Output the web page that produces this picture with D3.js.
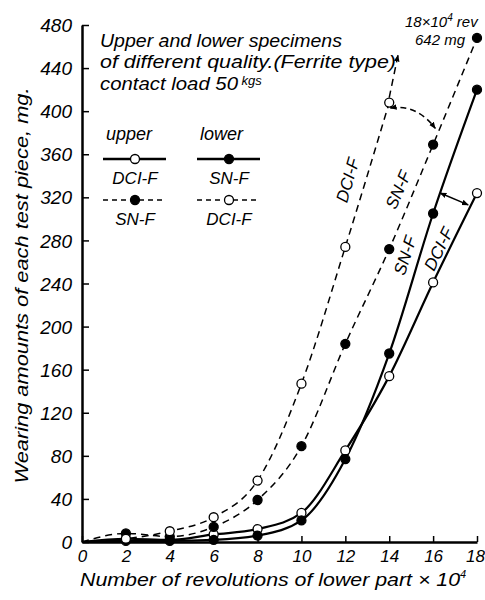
<!DOCTYPE html>
<html lang="en">
<head>
<meta charset="utf-8">
<title>Wearing amounts</title>
<script src="https://cdn.jsdelivr.net/npm/d3@7"></script>
<style>
    body { margin: 0; background: #fff; }
    svg text { font-family: "Liberation Sans", sans-serif; font-style: italic; fill: #000; }
</style>
</head>
<body>
<div id="chart"></div>
<script>
'use strict';

// data (x in 10^4 rev, y in mg)
const revs = [0, 2, 4, 6, 8, 10, 12, 14, 16, 18];
const upperDCI = [0, 3, 2, 7, 12, 27, 85, 154, 241, 324];   // solid, open
const lowerSN = [0, 1, 1, 2, 6, 20, 77, 175, 305, 420];     // solid, filled
const upperSN = [0, 8, 5, 14, 39, 89, 184, 272, 369, 468];  // dashed, filled
const lowerDCI = [0, 3, 10, 23, 57, 147, 274, 408];         // dashed, open
const xTicks = [0, 2, 4, 6, 8, 10, 12, 14, 16, 18];
const yTicks = [0, 40, 80, 120, 160, 200, 240, 280, 320, 360, 400, 440, 480];

const width = 485, height = 600;
const margin = {top: 25, right: 8, bottom: 58, left: 82};

const x = d3.scaleLinear().domain([0, 18]).range([margin.left, 477]);
const y = d3.scaleLinear().domain([0, 480]).range([height - margin.bottom, margin.top]);

const svg = d3.select("#chart").append("svg")
    .attr("width", width)
    .attr("height", height);

svg.append("rect").attr("width", width).attr("height", height).attr("fill", "#fff");

const defs = svg.append("defs");
defs.append("marker")
    .attr("id", "arr")
    .attr("viewBox", "0 0 10 10")
    .attr("refX", 9).attr("refY", 5)
    .attr("markerWidth", 7).attr("markerHeight", 7)
    .attr("markerUnits", "userSpaceOnUse")
    .attr("orient", "auto-start-reverse")
    .append("path").attr("d", "M0,1 L10,5 L0,9 Z").attr("fill", "#000");

// axes
const xAxis = d3.axisBottom(x).tickValues(xTicks).tickSizeInner(-6).tickSizeOuter(0).tickPadding(6);
const yAxis = d3.axisLeft(y).tickValues(yTicks).tickSizeInner(-7).tickSizeOuter(0).tickPadding(10);

const gx = svg.append("g").attr("transform", `translate(0,${y(0)})`).call(xAxis);
const gy = svg.append("g").attr("transform", `translate(${x(0)},0)`).call(yAxis);
[gx, gy].forEach(g => {
    g.select(".domain").attr("stroke", "#000").attr("stroke-width", 2.5);
    g.selectAll(".tick line").attr("stroke", "#000").attr("stroke-width", 1.5);
    g.selectAll(".tick text").style("font-size", "19px").style("font-family", "Liberation Sans, sans-serif")
        .style("font-style", "italic").attr("fill", "#000");
});
gy.selectAll(".tick text").attr("dy", "0.35em");
gx.selectAll(".tick text").attr("dy", "0.85em").style("font-size", "17px");
gx.selectAll(".tick:last-of-type text").attr("dx", -2);

// axis titles
svg.append("text")
    .attr("transform", `translate(28,${y(240) + 2}) rotate(-90)`)
    .attr("text-anchor", "middle")
    .attr("textLength", 396)
    .attr("lengthAdjust", "spacingAndGlyphs")
    .style("font-size", "19px")
    .text("Wearing amounts of each test piece, mg.");

const xt = svg.append("text")
    .attr("x", 80).attr("y", 586)
    .style("font-size", "19px");
xt.append("tspan").attr("textLength", 380).attr("lengthAdjust", "spacingAndGlyphs")
    .text("Number of revolutions of lower part × 10");
xt.append("tspan").attr("dy", -8).style("font-size", "11px").text("4");

// curves
const line = d3.line()
    .x((d, i) => x(revs[i]))
    .y(d => y(d))
    .curve(d3.curveMonotoneX);

const series = [
    {vals: upperDCI, dash: null, fill: "#fff", w: 2.2},
    {vals: lowerSN, dash: null, fill: "#000", w: 2.2},
    {vals: upperSN, dash: "7,5", fill: "#000", w: 1.5},
    {vals: lowerDCI, dash: "7,5", fill: "#fff", w: 1.5}
];

series.forEach(s => {
    svg.append("path")
        .attr("d", line(s.vals))
        .attr("fill", "none")
        .attr("stroke", "#000")
        .attr("stroke-width", s.w)
        .attr("stroke-dasharray", s.dash);
});
series.forEach(s => {
    svg.selectAll(null)
        .data(s.vals.slice(1))
        .enter().append("circle")
        .attr("cx", (d, i) => x(revs[i + 1]))
        .attr("cy", d => y(d))
        .attr("r", 4.5)
        .attr("fill", s.fill)
        .attr("stroke", "#000")
        .attr("stroke-width", 1.3);
});

// dashed DCI-F extension toward the 642 mg note
const extension = [[14, 408], [14.4, 452]];
svg.append("line")
    .attr("x1", x(extension[0][0])).attr("y1", y(extension[0][1]) - 5)
    .attr("x2", x(extension[1][0])).attr("y2", y(extension[1][1]))
    .attr("stroke", "#000").attr("stroke-width", 1.5)
    .attr("stroke-dasharray", "7,5")
    .attr("marker-end", "url(#arr)");

// brackets between curves
const dashBracket = [[14.05, 403], [16.1, 384]];
svg.append("path")
    .attr("d", `M${x(dashBracket[0][0])},${y(dashBracket[0][1])} Q${(x(dashBracket[0][0]) + x(dashBracket[1][0])) / 2 + 4},${y(dashBracket[0][1]) - 4} ${x(dashBracket[1][0])},${y(dashBracket[1][1])}`)
    .attr("fill", "none").attr("stroke", "#000").attr("stroke-width", 1.5)
    .attr("stroke-dasharray", "6,4")
    .attr("marker-start", "url(#arr)").attr("marker-end", "url(#arr)");

const solidBracket = [[16.32, 324], [17.6, 313]];
svg.append("line")
    .attr("x1", x(solidBracket[0][0])).attr("y1", y(solidBracket[0][1]))
    .attr("x2", x(solidBracket[1][0])).attr("y2", y(solidBracket[1][1]))
    .attr("stroke", "#000").attr("stroke-width", 1.5)
    .attr("marker-start", "url(#arr)").attr("marker-end", "url(#arr)");

// labels along curves
const curveLabels = [
    {t: "DCI-F", at: [12.1, 336], rot: -74},
    {t: "SN-F", at: [14.4, 327], rot: -67},
    {t: "SN-F", at: [14.72, 266], rot: -72},
    {t: "DCI-F", at: [16.25, 272], rot: -64}
];
curveLabels.forEach(l => {
    svg.append("text")
        .attr("transform", `translate(${x(l.at[0])},${y(l.at[1])}) rotate(${l.rot})`)
        .attr("text-anchor", "middle")
        .attr("dy", "0.35em")
        .style("font-size", "17px")
        .text(l.t);
});

// note at top right
const note = svg.append("text").attr("x", 405).attr("y", 27).style("font-size", "15px");
note.append("tspan").text("18×10");
note.append("tspan").attr("dy", -6).style("font-size", "10px").text("4");
note.append("tspan").attr("dy", 6).text(" rev");
svg.append("text").attr("x", 415).attr("y", 45).style("font-size", "15px").text("642 mg");

// condition text
const condLines = [
    {t: "Upper and lower specimens", len: 242},
    {t: "of different quality.(Ferrite type)", len: 296}
];
condLines.forEach((l, i) => {
    svg.append("text").attr("x", 100).attr("y", 47 + i * 21)
        .attr("textLength", l.len).attr("lengthAdjust", "spacingAndGlyphs")
        .style("font-size", "18px").text(l.t);
});
const load = svg.append("text").attr("x", 100).attr("y", 90).style("font-size", "18px");
load.append("tspan").attr("textLength", 138).attr("lengthAdjust", "spacingAndGlyphs").text("contact load  50");
load.append("tspan").attr("dy", -5).style("font-size", "13px").text(" kgs");

// legend
const legendCols = ["upper", "lower"];
const legendRows = [
    [{name: "DCI-F", dash: null, fill: "#fff", w: 2.5}, {name: "SN-F", dash: null, fill: "#000", w: 2.5}],
    [{name: "SN-F", dash: "5,4", fill: "#000", w: 1.5}, {name: "DCI-F", dash: "5,4", fill: "#fff", w: 1.5}]
];
const colX = [103, 197];
legendCols.forEach((c, i) => {
    svg.append("text").attr("x", colX[i] + 3).attr("y", 140).style("font-size", "18px").text(c);
});
legendRows.forEach((row, r) => {
    const ly = 159 + r * 41;
    row.forEach((e, c) => {
        svg.append("line")
            .attr("x1", colX[c]).attr("x2", colX[c] + 63)
            .attr("y1", ly).attr("y2", ly)
            .attr("stroke", "#000").attr("stroke-width", e.w)
            .attr("stroke-dasharray", e.dash);
        svg.append("circle")
            .attr("cx", colX[c] + 32).attr("cy", ly).attr("r", 4.5)
            .attr("fill", e.fill).attr("stroke", "#000").attr("stroke-width", 1.3);
        svg.append("text")
            .attr("x", colX[c] + 32).attr("y", ly + 25)
            .attr("text-anchor", "middle")
            .style("font-size", "17px")
            .text(e.name);
    });
});
</script>
</body>
</html>
